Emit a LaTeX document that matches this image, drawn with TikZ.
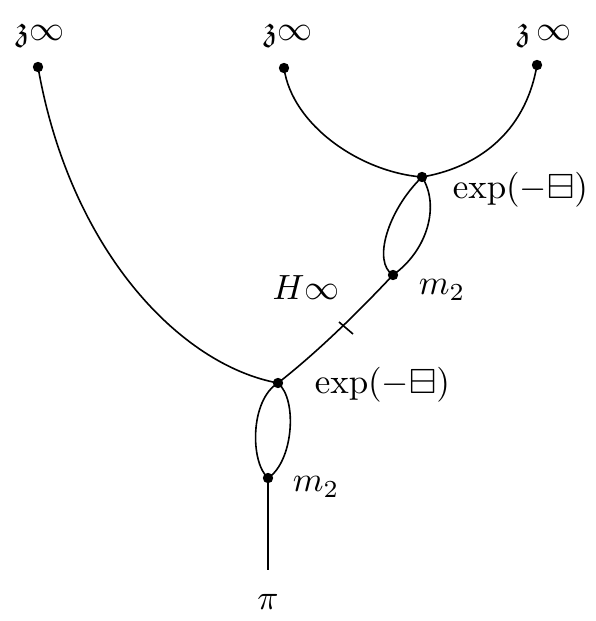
\documentclass[tikz,border=0pt]{standalone}
\usepackage{amssymb}
\begin{document}
\begin{tikzpicture}[x=1pt,y=-1pt,line width=1.6pt,
  lab/.style={inner sep=0pt,scale=3.5}]
\useasboundingbox (0,0) rectangle (595,621);
% Blaetter oben
\coordinate (L1) at ( 38, 67);
\coordinate (L2) at (284, 68);
\coordinate (L3) at (537, 65);
% Ecken
\coordinate (U)  at (422,177);  % obere exp-Ecke
\coordinate (Um) at (393,275);  % oberes m_2
\coordinate (D)  at (278,383);  % untere exp-Ecke
\coordinate (Dm) at (268,478);  % unteres m_2
\coordinate (R)  at (268,570);  % Wurzel
\coordinate (X)  at (346,328);  % Strich auf H_infty
% Kanten
\draw (L1) .. controls (70,250) and (180,365) .. (D);
\draw (L2) .. controls (292,125) and (360,172) .. (U);
\draw (L3) .. controls (525,135) and (475,168) .. (U);
\draw (U) .. controls (388,210) and (372,262) .. (Um);
\draw (U) .. controls (440,205) and (428,250) .. (Um);
\draw (Um) .. controls (360,310) and (320,350) .. (D);
\draw (D) .. controls (250,400) and (250,462) .. (Dm);
\draw (D) .. controls (298,400) and (293,462) .. (Dm);
\draw (Dm) -- (R);
\draw ([shift={(-7,-6)}]X) -- ([shift={(7,6)}]X);
% Punkte
\foreach \p in {L1,L2,L3,U,Um,D,Dm} \fill (\p) circle (5.2);
% Beschriftungen
\node[lab] (t1) at ( 40, 35) {$\mathfrak{z}\infty$};
\node[lab] (t2) at (288, 35) {$\mathfrak{z}\infty$};
\node[lab] (t3) at (544, 35) {$\mathfrak{z}\,\infty$};
\node[lab,anchor=west] (e1) at (450,190) {$\exp(-\boxminus)$};
\node[lab,anchor=west] (m1) at (416,290) {$m_2$};
\node[lab] (h)  at (306,288) {$H\infty$};
\node[lab,anchor=west] (e2) at (312,385) {$\exp(-\boxminus)$};
\node[lab,anchor=west] (m2) at (290,487) {$m_2$};
\node[lab] (pi) at (268,602) {$\pi$};
\end{tikzpicture}
\end{document}
